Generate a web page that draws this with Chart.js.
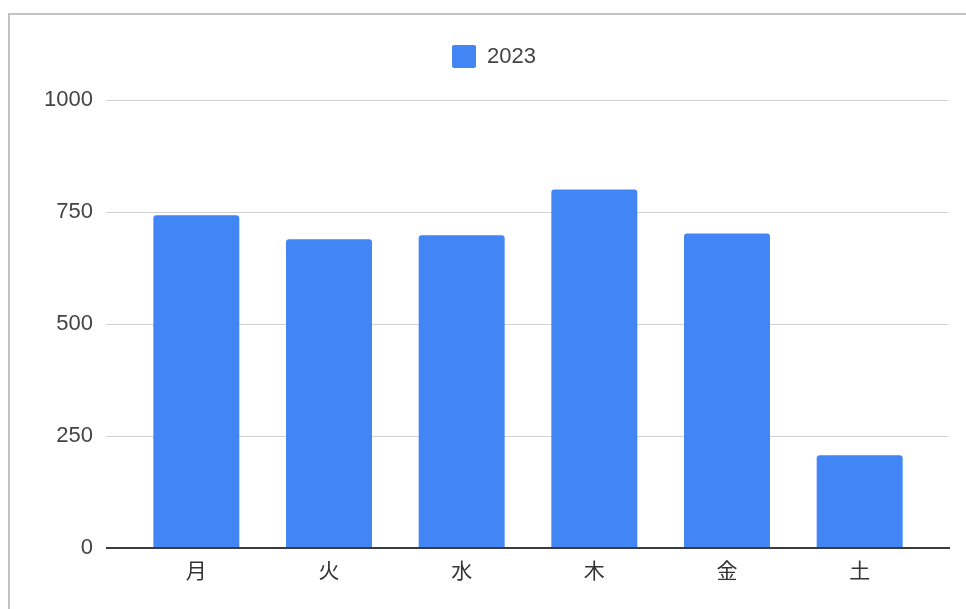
<!DOCTYPE html>
<html>
<head>
<meta charset="utf-8">
<title>2023</title>
<script src="https://cdn.jsdelivr.net/npm/chart.js@4.4.0/dist/chart.umd.min.js"></script>
<style>
  html, body { margin: 0; padding: 0; background: #fff; overflow: hidden; width: 966px; height: 609px; }
  .frame { position: absolute; left: 8px; top: 13px; width: 1000px; height: 700px; border: 2px solid #c2c2c2; }
  #chart { position: absolute; left: 11px; top: 15px; }
</style>
</head>
<body>
<div class="frame"></div>
<canvas id="chart" width="966" height="594"></canvas>
<script>
// weekday totals for 2023
const days = ['月', '火', '水', '木', '金', '土'];
const values2023 = [743, 689, 698, 800, 702, 207];
const yTicks = [0, 250, 500, 750, 1000];

const FONT = "'Liberation Sans', Arial, 'Noto Sans CJK JP', sans-serif";

// extra room under the legend before the plot starts
const legendGap = {
    id: 'legendGap',
    beforeInit(chart) {
        const fit = chart.legend.fit;
        chart.legend.fit = function () {
            fit.bind(chart.legend)();
            this.height += 22;
        };
    }
};

// horizontal rules run a bit past the plot on both sides, baseline on top of bars
const gridRules = {
    id: 'gridRules',
    beforeDatasetsDraw(chart) {
        const { ctx, chartArea, scales } = chart;
        ctx.save();
        ctx.strokeStyle = '#d2d2d2';
        ctx.lineWidth = 1;
        scales.y.ticks.forEach(t => {
            if (t.value === 0) return;
            const y = Math.round(scales.y.getPixelForValue(t.value)) + 0.5;
            ctx.beginPath();
            ctx.moveTo(chartArea.left - 24, y);
            ctx.lineTo(chartArea.right + 22, y);
            ctx.stroke();
        });
        ctx.restore();
    },
    afterDatasetsDraw(chart) {
        const { ctx, chartArea, scales } = chart;
        const y = Math.round(scales.y.getPixelForValue(0));
        ctx.save();
        ctx.strokeStyle = '#3c3c3c';
        ctx.lineWidth = 2;
        ctx.beginPath();
        ctx.moveTo(chartArea.left - 24, y);
        ctx.lineTo(chartArea.right + 24, y);
        ctx.stroke();
        ctx.restore();
    }
};

new Chart(document.getElementById('chart'), {
    type: 'bar',
    data: {
        labels: days,
        datasets: [{
            label: '2023',
            data: values2023,
            backgroundColor: '#4285f4',
            borderRadius: 3,
            borderSkipped: 'start',
            categoryPercentage: 1,
            barPercentage: 0.648
        }]
    },
    options: {
        responsive: false,
        animation: false,
        layout: { padding: { top: 20, right: 0, left: 0, bottom: 0 } },
        plugins: {
            legend: {
                display: true,
                position: 'top',
                labels: {
                    boxWidth: 24,
                    boxHeight: 23,
                    useBorderRadius: true,
                    borderRadius: 2,
                    color: '#444',
                    font: { family: FONT, size: 22 }
                }
            },
            tooltip: { enabled: false }
        },
        scales: {
            x: {
                grid: { display: false, drawTicks: false },
                border: { display: false },
                ticks: {
                    color: '#333',
                    padding: 12,
                    font: { family: FONT, size: 21 }
                },
                afterFit(s) { s.height = 61; }
            },
            y: {
                min: 0,
                max: 1000,
                afterBuildTicks(s) { s.ticks = yTicks.map(v => ({ value: v })); },
                grid: { display: false, drawTicks: false },
                border: { display: false },
                ticks: {
                    color: '#444',
                    padding: 37,
                    font: { family: FONT, size: 22 },
                    callback: v => String(v)
                },
                afterFit(s) { s.width = 119; }
            },
            // empty right-hand axis keeps space for the rules to run past the bars
            yRight: {
                position: 'right',
                grid: { display: false, drawTicks: false },
                border: { display: false },
                ticks: { display: false },
                afterFit(s) { s.width = 51; }
            }
        }
    },
    plugins: [legendGap, gridRules]
});
</script>
</body>
</html>
